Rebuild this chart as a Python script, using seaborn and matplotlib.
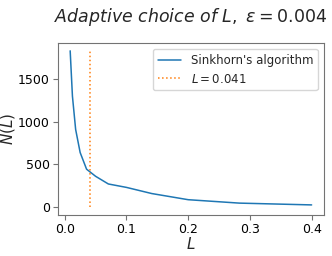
import matplotlib
matplotlib.use("Agg")
import matplotlib.pyplot as plt
import seaborn as sns
import pandas as pd

# values
L_vals = [0.00884, 0.0125, 0.0177, 0.025, 0.0354, 0.05, 0.0707, 0.1, 0.141, 0.2, 0.283, 0.4]
N_vals = [1830, 1300, 910, 640, 445, 362, 272, 232, 160, 88, 48, 27]
L_chosen = 0.041
eps = 0.004

sns.set_style("ticks")
plt.rcParams['font.family'] = ['DejaVu Sans']
plt.rcParams['axes.edgecolor'] = '0.45'
plt.rcParams['xtick.color'] = '0.45'
plt.rcParams['ytick.color'] = '0.45'
plt.rcParams['xtick.labelcolor'] = 'black'
plt.rcParams['ytick.labelcolor'] = 'black'

df = pd.DataFrame({"L": L_vals, "N": N_vals})

fig, ax = plt.subplots(figsize=(3.32, 2.56), dpi=100)
sns.lineplot(data=df, x="L", y="N", ax=ax, color="tab:blue", linewidth=1.1,
             label="Sinkhorn's algorithm")
ax.vlines(L_chosen, 0, max(N_vals), colors="tab:orange", linestyles=":",
          linewidth=1.1, label=rf"$L = {L_chosen}$")

ax.set_title(rf"Adaptive choice of $L,\ \epsilon = {eps}$", fontsize=12.5,
             fontstyle="italic", pad=15)
ax.set_xlabel(r"$L$", fontsize=11, labelpad=0)
ax.set_ylabel(r"$N(L)$", fontsize=11, labelpad=1)
ax.set_xticks([0.0, 0.1, 0.2, 0.3, 0.4])
ax.set_yticks([0, 500, 1000, 1500])
ax.tick_params(labelsize=9, length=3.5, pad=2.5)
ax.legend(loc="upper right", fontsize=8.5)

fig.subplots_adjust(left=0.175, right=0.975, top=0.832, bottom=0.16)
fig.savefig("out.png", dpi=100)
